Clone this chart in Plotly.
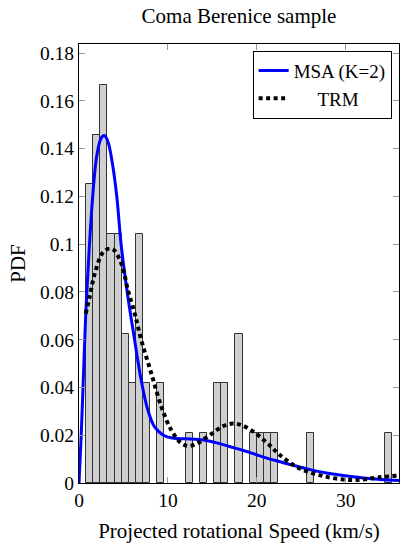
import plotly.graph_objects as go

# Histogram (bin left edges, width 0.8) and PDF heights
bin_width = 0.8
bin_left = [0.8, 1.6, 2.4, 3.2, 4.0, 4.8, 5.6, 6.4, 7.2, 8.8,
            12.0, 13.6, 15.2, 16.0, 17.6, 19.2, 20.0, 20.8, 21.6, 25.6, 34.4]
hist_pdf = [0.125, 0.1458, 0.1667, 0.1042, 0.1042, 0.0625, 0.0417, 0.1042, 0.0417, 0.0417,
            0.0208, 0.0208, 0.0417, 0.0417, 0.0625, 0.0208, 0.0208, 0.0208, 0.0208, 0.0208, 0.0208]

# MSA (K=2) curve
msa_x = [0, 0.25, 0.5, 0.75, 1.0, 1.5, 2.0, 2.5, 2.85, 3.25, 3.75, 4.25, 4.75, 5.5, 6.25,
         7.0, 7.75, 8.5, 9.5, 10.5, 12, 14, 15.5, 17, 18.5, 20, 22, 24, 26, 28, 30, 32, 34, 36]
msa_y = [0, 0.02, 0.045, 0.07, 0.088, 0.118, 0.137, 0.1445, 0.1455, 0.143, 0.134, 0.12, 0.0995,
         0.078, 0.06, 0.043, 0.0305, 0.0235, 0.0200, 0.0188, 0.0185, 0.018, 0.0168, 0.0152,
         0.0136, 0.0118, 0.0095, 0.0075, 0.0056, 0.0041, 0.003, 0.0021, 0.0015, 0.001]

# TRM curve
trm_x = [0.75, 1.2, 1.77, 2.8, 3.75, 4.77, 5.51, 6.27, 7.02, 8.14, 9.27, 10.39, 11.52, 12.4,
         13.3, 14.7, 16.2, 17.3, 18.3, 19.8, 21.3, 22.6, 24.8, 27.5, 30.1, 32.0, 33.8, 36]
trm_y = [0.0709, 0.078, 0.0876, 0.097, 0.098, 0.0918, 0.0806, 0.0709, 0.0597, 0.0458, 0.0319,
         0.0221, 0.0166, 0.0155, 0.0166, 0.020, 0.0238, 0.0249, 0.0242, 0.021, 0.0163, 0.0117,
         0.0061, 0.0029, 0.0013, 0.0015, 0.0024, 0.0031]

x_ticks = [0, 10, 20, 30]
y_ticks = [0, 0.02, 0.04, 0.06, 0.08, 0.1, 0.12, 0.14, 0.16, 0.18]
y_ticktext = ["0", "0.02", "0.04", "0.06", "0.08", "0.1", "0.12", "0.14", "0.16", "0.18"]

FONT = "Liberation Serif, Times New Roman, serif"

fig = go.Figure()
fig.add_trace(go.Bar(
    x=[l + bin_width / 2 for l in bin_left], y=hist_pdf, width=bin_width,
    marker=dict(color="#d0d0d0", line=dict(color="#333333", width=1)),
    showlegend=False, hoverinfo="skip"))
fig.add_trace(go.Scatter(
    x=msa_x, y=msa_y, mode="lines", name="MSA (K=2)",
    line=dict(color="#0000ff", width=3, shape="spline")))
fig.add_trace(go.Scatter(
    x=trm_x, y=trm_y, mode="lines", name="\u00a0" * 5 + "TRM",
    line=dict(color="black", width=4, dash="4px,3.5px", shape="spline")))

axis_common = dict(
    showline=True, linecolor="black", linewidth=1, mirror="allticks",
    ticks="inside", ticklen=6, tickcolor="#999999", tickwidth=1,
    showgrid=False, zeroline=False,
    tickfont=dict(family=FONT, size=19.5, color="black"),
)

fig.update_layout(
    width=400, height=548,
    margin=dict(l=79, r=1, t=44, b=65),
    paper_bgcolor="white", plot_bgcolor="white",
    barmode="overlay", bargap=0,
    font=dict(family=FONT, size=19.5, color="black"),
    title=dict(text="Coma Berenice sample", x=0.5, xref="paper", xanchor="center",
               y=1 - 16 / 548, yref="container", yanchor="middle",
               font=dict(family=FONT, size=21, color="black")),
    xaxis=dict(range=[0, 36], tickvals=x_ticks,
               title=dict(text="Projected rotational Speed (km/s)", standoff=12,
                          font=dict(family=FONT, size=21)),
               **axis_common),
    yaxis=dict(range=[0, 0.1838], tickvals=y_ticks, ticktext=y_ticktext,
               title=dict(text="PDF", standoff=8, font=dict(family=FONT, size=21)),
               **axis_common),
    legend=dict(x=0.977, y=0.985, xanchor="right", yanchor="top",
                bordercolor="black", borderwidth=1, bgcolor="white",
                font=dict(family=FONT, size=19), tracegroupgap=0,
                itemwidth=30),
    showlegend=True,
)

fig.write_html("out.html")
